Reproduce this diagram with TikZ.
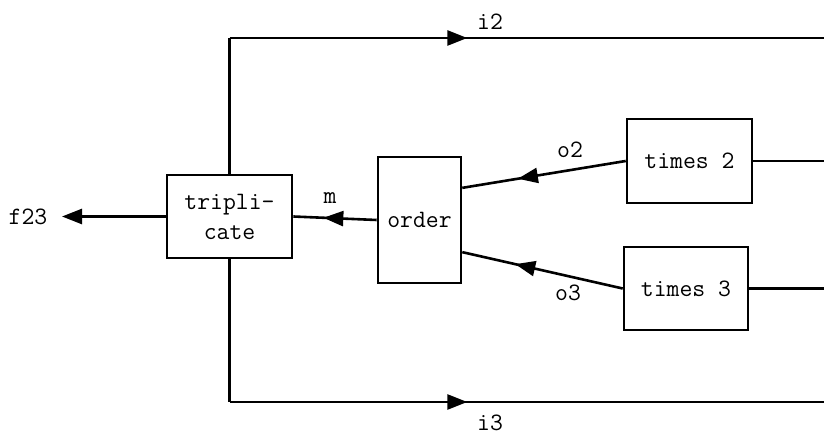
\documentclass[tikz,border=0pt]{standalone}
\usepackage{tikz}
\usetikzlibrary{arrows.meta, calc, decorations.markings}
\tikzset{
  proc/.style={draw, line width=1.3pt, align=center, inner sep=2pt,
               font=\ttfamily\fontsize{12.5}{15}\selectfont},
  lbl/.style={font=\ttfamily\fontsize{12.5}{15}\selectfont},
  wire/.style={line width=1.3pt},
  flow/.style={line width=1.3pt, -{Triangle[length=10pt, width=7.5pt]}},
  midflow/.style={line width=1.3pt, postaction={decorate},
                  decoration={markings, mark=at position #1 with {\arrow{Triangle[length=10pt, width=7.5pt]}}}},
}

\begin{document}
\begin{tikzpicture}[x=0.5pt, y=-0.5pt]
  \useasboundingbox (0,0) rectangle (824,438);
  \node[proc, minimum width=62.5pt, minimum height=41.5pt] (trip) at (229.5,216.5) {tripli-\\cate};
  \node[proc, minimum width=41.5pt, minimum height=63pt] (order) at (419.5,220) {order};
  \node[proc, minimum width=62.5pt, minimum height=42pt] (times2) at (689.5,161) {times 2};
  \node[proc, minimum width=62pt, minimum height=41.5pt] (times3) at (686,288.5) {times 3};
  \coordinate (f23end) at (62,216.5);
  \coordinate (i2end) at (824,38);
  \coordinate (i3end) at (824,402);
  \coordinate (rim) at (824,0);
  \node[lbl] (f23) at (28,217) {f23};
  \node[lbl] (m) at (330,198) {m};
  \node[lbl] (o2) at (570,150) {o2};
  \node[lbl] (o3) at (568,293) {o3};
  \node[lbl] (i2) at (490,22) {i2};
  \node[lbl] (i3) at (490,423) {i3};
  \draw[flow] (trip.west) -- (f23end);
  \draw[midflow=0.64] (order.west) -- (trip.east);
  \draw[midflow=0.66] (times2.west) -- ($(order.north east)!0.5!(order.east)$);
  \draw[midflow=0.67] (times3.west) -- ($(order.east)!0.5!(order.south east)$);
  \draw[wire] (trip.north) -- (trip.north |- i2end) coordinate (c2);
  \draw[midflow=0.4] (c2) -- (i2end);
  \draw[wire] (trip.south) -- (trip.south |- i3end) coordinate (c3);
  \draw[midflow=0.4] (c3) -- (i3end);
  \draw[wire] (times2.east) -- (times2.east -| rim);
  \draw[wire] (times3.east) -- (times3.east -| rim);
\end{tikzpicture}
\end{document}
